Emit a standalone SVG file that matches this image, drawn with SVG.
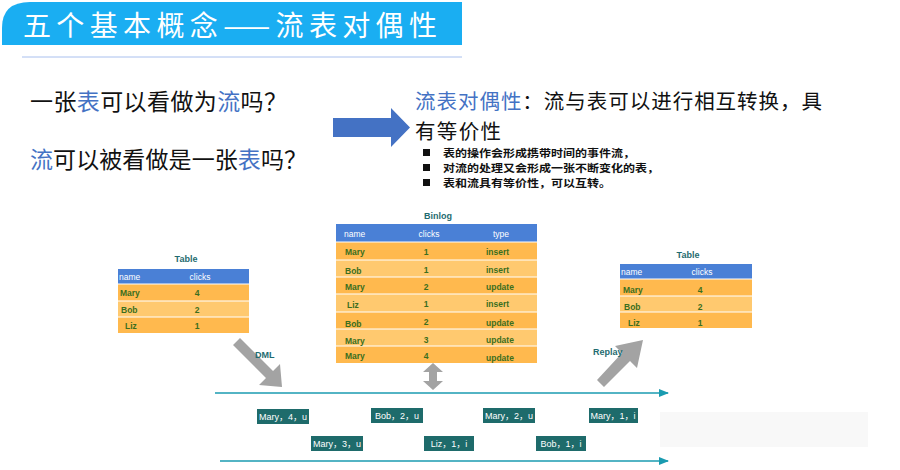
<svg xmlns="http://www.w3.org/2000/svg" width="900" height="470" viewBox="0 0 900 470">
<style>
.cn{font-family:"Noto Sans CJK SC","Liberation Sans",sans-serif;}
.hl{fill:#4472c4;}
.q{font-size:23px;fill:#111;}
.bul{font-size:10.4px;fill:#111;font-weight:bold;}
.ttl{font-family:"Liberation Sans",Arial,sans-serif;font-size:9px;font-weight:bold;fill:#1f6b70;text-anchor:middle;}
.th{font-family:"Liberation Sans",Arial,sans-serif;font-size:8.5px;fill:#fff;}
.td{font-family:"Liberation Sans",Arial,sans-serif;font-size:8.5px;fill:#3b6e1e;font-weight:bold;}
.mid{text-anchor:middle;}
.hdr{fill:#4a80d6;}
.r1{fill:#ffb94e;}
.r2{fill:#ffc96f;}
.sep{stroke:#fff;stroke-width:1;}
.lbl{font-family:"Liberation Sans",Arial,sans-serif;font-size:9px;font-weight:bold;fill:#1f6b70;}
.ev{fill:#1e6b6b;}
.evt{font-family:"Liberation Sans","Noto Sans CJK SC",sans-serif;font-size:9px;fill:#fff;text-anchor:middle;}
.tl{stroke:#1a9bb0;stroke-width:1.6;fill:none;}
.gray{fill:#a3a3a3;}
</style>
<defs>
<marker id="tlArrow" markerWidth="10" markerHeight="8" refX="9" refY="4" orient="auto" markerUnits="userSpaceOnUse">
<path d="M0,0 L10,4 L0,8 Z" fill="#1a9bb0"/>
</marker>
</defs>
<rect width="900" height="470" fill="#fff"/>

<g id="title">
<path d="M2,45 L2,28 Q2,2 30,2 L462,2 L462,45 Z" fill="#1aaef2"/>
<text class="cn" x="23" y="36" font-size="28" fill="#fff" textLength="414" lengthAdjust="spacing">五个基本概念——流表对偶性</text>
<line x1="22" y1="57" x2="462" y2="57" stroke="#a9c0ee" stroke-width="1"/>
</g>

<g id="questions">
<text class="cn q" x="30" y="110" textLength="257" lengthAdjust="spacing">一张<tspan class="hl">表</tspan>可以看做为<tspan class="hl">流</tspan>吗？</text>
<text class="cn q" x="30" y="168" textLength="277" lengthAdjust="spacing"><tspan class="hl">流</tspan>可以被看做是一张<tspan class="hl">表</tspan>吗？</text>
</g>

<g id="bigArrow">
<path d="M333,118 L391,118 L391,108 L410,127.5 L391,147 L391,137 L333,137 Z" fill="#4472c4"/>
</g>

<g id="duality">
<text class="cn" x="415" y="109" font-size="20.5" fill="#111" textLength="407" lengthAdjust="spacing"><tspan class="hl">流表对偶性</tspan>：流与表可以进行相互转换，具</text>
<text class="cn" x="415" y="139" font-size="20.5" fill="#111" textLength="86" lengthAdjust="spacing">有等价性</text>
<rect x="423" y="149" width="7" height="7" fill="#111"/>
<rect x="423" y="164" width="7" height="7" fill="#111"/>
<rect x="423" y="179" width="7" height="7" fill="#111"/>
<text class="cn bul" x="443" y="157" textLength="192" lengthAdjust="spacingAndGlyphs">表的操作会形成携带时间的事件流，</text>
<text class="cn bul" x="443" y="172.2" textLength="216" lengthAdjust="spacingAndGlyphs">对流的处理又会形成一张不断变化的表，</text>
<text class="cn bul" x="443" y="187.4" textLength="168" lengthAdjust="spacingAndGlyphs">表和流具有等价性，可以互转。</text>
</g>

<g id="tableLeft">
<text class="ttl" x="186" y="262">Table</text>
<rect class="hdr" x="118" y="269" width="131" height="15"/>
<rect class="r1" x="118" y="284" width="131" height="17"/>
<rect class="r2" x="118" y="301" width="131" height="16"/>
<rect class="r1" x="118" y="317" width="131" height="16"/>
<line class="sep" x1="118" y1="284" x2="249" y2="284"/>
<line class="sep" x1="118" y1="301" x2="249" y2="301"/>
<line class="sep" x1="118" y1="317" x2="249" y2="317"/>
<text class="th" x="119" y="280">name</text>
<text class="th mid" x="200" y="280">clicks</text>
<text class="td" x="120" y="296">Mary</text><text class="td mid" x="197" y="296">4</text>
<text class="td" x="121" y="313">Bob</text><text class="td mid" x="197" y="313">2</text>
<text class="td" x="125" y="329">Liz</text><text class="td mid" x="197" y="329">1</text>
</g>

<g id="binlog">
<text class="ttl" x="438" y="219">Binlog</text>
<rect class="hdr" x="336" y="224" width="201" height="18"/>
<rect class="r1" x="336" y="242" width="201" height="18"/>
<rect class="r2" x="336" y="260" width="201" height="17"/>
<rect class="r1" x="336" y="277" width="201" height="17"/>
<rect class="r2" x="336" y="294" width="201" height="18"/>
<rect class="r1" x="336" y="312" width="201" height="17"/>
<rect class="r2" x="336" y="329" width="201" height="17"/>
<rect class="r1" x="336" y="346" width="201" height="17"/>
<line class="sep" x1="336" y1="242" x2="537" y2="242"/>
<line class="sep" x1="336" y1="260" x2="537" y2="260"/>
<line class="sep" x1="336" y1="277" x2="537" y2="277"/>
<line class="sep" x1="336" y1="294" x2="537" y2="294"/>
<line class="sep" x1="336" y1="312" x2="537" y2="312"/>
<line class="sep" x1="336" y1="329" x2="537" y2="329"/>
<line class="sep" x1="336" y1="346" x2="537" y2="346"/>
<text class="th" x="344" y="237">name</text>
<text class="th mid" x="429" y="237">clicks</text>
<text class="th mid" x="501" y="237">type</text>
<text class="td" x="345" y="255">Mary</text><text class="td mid" x="426" y="255">1</text><text class="td" x="486" y="255">insert</text>
<text class="td" x="345" y="274">Bob</text><text class="td mid" x="426" y="273">1</text><text class="td" x="486" y="273">insert</text>
<text class="td" x="345" y="290">Mary</text><text class="td mid" x="426" y="290">2</text><text class="td" x="486" y="290">update</text>
<text class="td" x="347" y="308">Liz</text><text class="td mid" x="426" y="307">1</text><text class="td" x="486" y="307">insert</text>
<text class="td" x="345" y="327">Bob</text><text class="td mid" x="426" y="325">2</text><text class="td" x="486" y="326">update</text>
<text class="td" x="345" y="344">Mary</text><text class="td mid" x="426" y="343">3</text><text class="td" x="486" y="343">update</text>
<text class="td" x="345" y="359">Mary</text><text class="td mid" x="426" y="359">4</text><text class="td" x="486" y="361">update</text>
</g>

<g id="tableRight">
<text class="ttl" x="688" y="258">Table</text>
<rect class="hdr" x="620" y="264" width="132" height="15"/>
<rect class="r1" x="620" y="279" width="132" height="17"/>
<rect class="r2" x="620" y="296" width="132" height="16"/>
<rect class="r1" x="620" y="312" width="132" height="16"/>
<line class="sep" x1="620" y1="279" x2="752" y2="279"/>
<line class="sep" x1="620" y1="296" x2="752" y2="296"/>
<line class="sep" x1="620" y1="312" x2="752" y2="312"/>
<text class="th" x="621" y="275">name</text>
<text class="th mid" x="702" y="275">clicks</text>
<text class="td" x="623" y="293">Mary</text><text class="td mid" x="700" y="293">4</text>
<text class="td" x="624" y="310">Bob</text><text class="td mid" x="700" y="310">2</text>
<text class="td" x="628" y="326">Liz</text><text class="td mid" x="700" y="326">1</text>
</g>

<g id="events">
<rect class="ev" x="257" y="409" width="52" height="15"/><text class="evt" x="283" y="420">Mary，4，u</text>
<rect class="ev" x="371" y="408" width="52" height="15"/><text class="evt" x="397" y="419">Bob，2，u</text>
<rect class="ev" x="483" y="408" width="52" height="15"/><text class="evt" x="509" y="419">Mary，2，u</text>
<rect class="ev" x="589" y="408" width="49" height="15"/><text class="evt" x="613" y="419">Mary，1，i</text>
<rect class="ev" x="311" y="436" width="52" height="15"/><text class="evt" x="337" y="447">Mary，3，u</text>
<rect class="ev" x="424" y="436" width="50" height="15"/><text class="evt" x="449" y="447">Liz，1，i</text>
<rect class="ev" x="536" y="436" width="50" height="15"/><text class="evt" x="561" y="447">Bob，1，i</text>
</g>

<g id="watermark">
<rect x="660" y="412" width="208" height="35" fill="#f8f8f8"/>
</g>

<g id="connectors">
<line class="tl" x1="215" y1="393" x2="668" y2="393" marker-end="url(#tlArrow)"/>
<line class="tl" x1="220" y1="461" x2="668" y2="461" marker-end="url(#tlArrow)"/>
<path class="gray" d="M233,345 L240,338 L273,371 L280,364 L282,387 L259,385 L266,378 Z"/>
<path class="gray" d="M597,380 L604,387 L630,361 L637,368 L643,340 L615,346 L622,353 Z"/>
<path class="gray" d="M433,363 L443,372 L437,372 L437,381 L443,381 L433,390 L423,381 L429,381 L429,372 L423,372 Z"/>
<text class="lbl" x="255" y="358">DML</text>
<text class="lbl" x="593" y="355">Replay</text>
</g>
</svg>
